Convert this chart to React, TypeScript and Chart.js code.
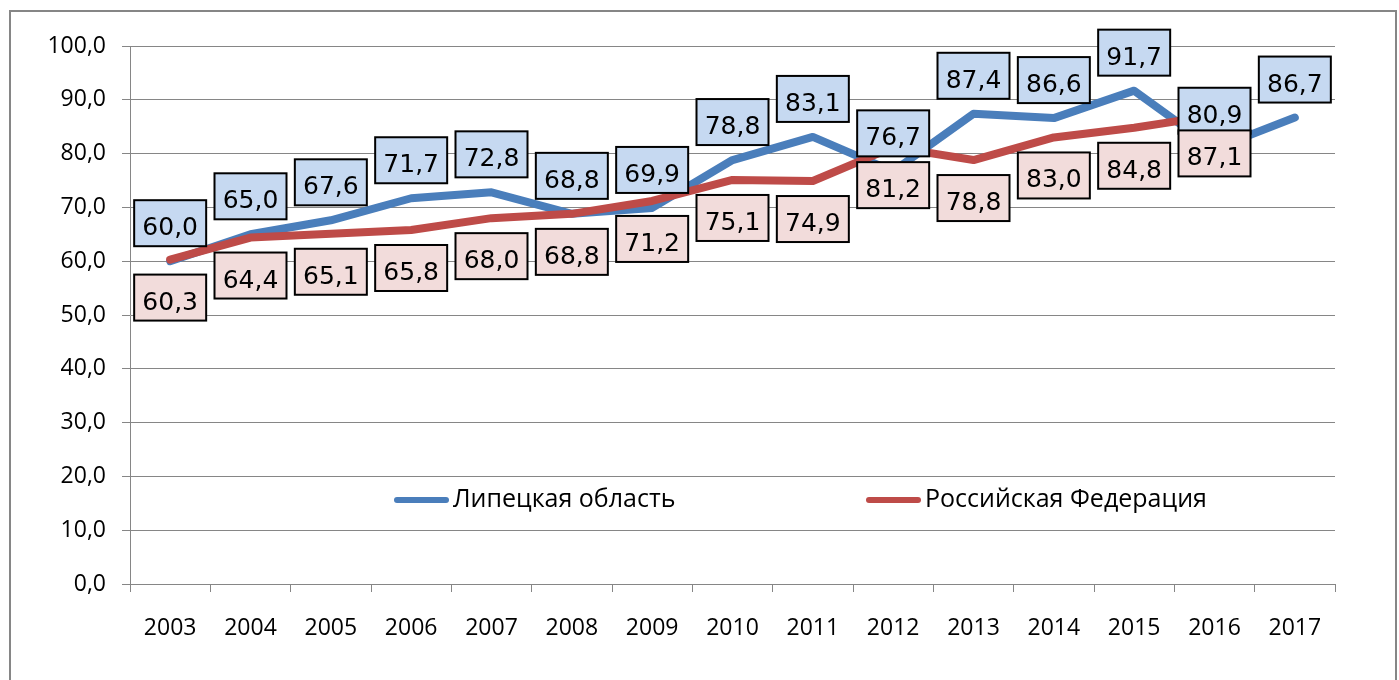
import React, { useEffect, useRef } from "react";
import { Chart, registerables } from "chart.js";

Chart.register(...registerables);

const years = ["2003", "2004", "2005", "2006", "2007", "2008", "2009", "2010", "2011", "2012", "2013", "2014", "2015", "2016", "2017"];
const lipetsk = [60.0, 65.0, 67.6, 71.7, 72.8, 68.8, 69.9, 78.8, 83.1, 76.7, 87.4, 86.6, 91.7, 80.9, 86.7];
const russia = [60.3, 64.4, 65.1, 65.8, 68.0, 68.8, 71.2, 75.1, 74.9, 81.2, 78.8, 83.0, 84.8, 87.1, null];
const seriesNames = ["Липецкая область", "Российская Федерация"];

const BLUE = "#4a7ebb";
const RED = "#be4b48";
const BLUE_FILL = "#c6d9f1";
const RED_FILL = "#f2dcdb";
const GRID = "#868686";
const TICK_FONT = "'Open Sans', sans-serif";
const LABEL_FONT = "'DejaVu Sans', sans-serif";

const fmt = (v: number) => v.toFixed(1).replace(".", ",");

const boxLabels = {
  id: "boxLabels",
  afterDatasetsDraw(chart: any) {
    const ctx = chart.ctx;
    const order = [0, 1]; // blue labels first, red labels on top
    ctx.save();
    for (const di of order) {
      const ds = chart.data.datasets[di];
      const meta = chart.getDatasetMeta(di);
      const above = ds.labelPos === "above";
      meta.data.forEach((pt: any, i: number) => {
        const v = ds.data[i];
        if (v === null || v === undefined) return;
        const cx = pt.x;
        const w = 72;
        const h = 46;
        const top = above ? pt.y - 15 - h : pt.y + 15;
        ctx.fillStyle = ds.boxFill;
        ctx.fillRect(cx - w / 2, top, w, h);
        ctx.lineWidth = 2;
        ctx.strokeStyle = "#000";
        ctx.strokeRect(cx - w / 2, top, w, h);
        ctx.fillStyle = "#000";
        ctx.font = `25px ${LABEL_FONT}`;
        ctx.textAlign = "center";
        ctx.textBaseline = "alphabetic";
        ctx.fillText(fmt(v), cx, top + h / 2 + 12);
      });
    }
    ctx.restore();
  },
};

const inlineLegend = {
  id: "inlineLegend",
  afterDraw(chart: any) {
    const ctx = chart.ctx;
    const items = [
      { x: 395, color: BLUE, text: seriesNames[0] },
      { x: 867, color: RED, text: seriesNames[1] },
    ];
    const y = 500;
    ctx.save();
    for (const it of items) {
      ctx.strokeStyle = it.color;
      ctx.lineWidth = 6;
      ctx.lineCap = "round";
      ctx.beginPath();
      ctx.moveTo(it.x + 2, y);
      ctx.lineTo(it.x + 51, y);
      ctx.stroke();
      ctx.fillStyle = "#000";
      ctx.font = `25px ${TICK_FONT}`;
      ctx.textAlign = "left";
      ctx.textBaseline = "middle";
      ctx.fillText(it.text, it.x + 58, y);
    }
    ctx.restore();
  },
};

export default function App() {
  const ref = useRef<HTMLCanvasElement>(null);
  useEffect(() => {
    if (!ref.current) return;
    const chart = new Chart(ref.current, {
      type: "line",
      data: {
        labels: years,
        datasets: [
          {
            label: seriesNames[0],
            data: lipetsk,
            borderColor: BLUE,
            backgroundColor: BLUE,
            borderWidth: 8,
            pointRadius: 0,
            pointHoverRadius: 0,
            borderCapStyle: "round",
            borderJoinStyle: "round",
            tension: 0,
            order: 1,
            labelPos: "above",
            boxFill: BLUE_FILL,
          } as any,
          {
            label: seriesNames[1],
            data: russia,
            borderColor: RED,
            backgroundColor: RED,
            borderWidth: 8,
            pointRadius: 0,
            pointHoverRadius: 0,
            borderCapStyle: "round",
            borderJoinStyle: "round",
            tension: 0,
            order: 0,
            labelPos: "below",
            boxFill: RED_FILL,
          } as any,
        ],
      },
      options: {
        responsive: false,
        animation: false,
        devicePixelRatio: 1,
        layout: { padding: { left: 0, right: 64, top: 46, bottom: 0 } },
        plugins: {
          legend: { display: false },
          tooltip: { enabled: false },
        },
        events: [],
        scales: {
          x: {
            type: "category",
            offset: true,
            grid: {
              display: true,
              offset: true,
              drawOnChartArea: false,
              drawTicks: true,
              tickLength: 8,
              color: GRID,
              lineWidth: 1,
            },
            border: { display: true, color: GRID, width: 1 },
            ticks: {
              color: "#000",
              font: { family: TICK_FONT, size: 23 },
              padding: 23,
              maxRotation: 0,
              autoSkip: false,
            },
            afterFit: (s: any) => {
              s.height = 96;
            },
          },
          y: {
            min: 0,
            max: 100,
            grid: {
              color: GRID,
              lineWidth: 1,
              drawTicks: true,
              tickLength: 8,
            },
            border: { display: true, color: GRID, width: 1 },
            ticks: {
              stepSize: 10,
              color: "#000",
              font: { family: TICK_FONT, size: 23 },
              padding: 16,
              callback: (v: any) => fmt(Number(v)),
            },
            afterFit: (s: any) => {
              s.width = 130;
            },
          },
        },
      },
      plugins: [boxLabels, inlineLegend],
    });
    return () => chart.destroy();
  }, []);

  return (
    <div
      style={{
        position: "fixed",
        left: 0,
        top: 0,
        width: 1399,
        height: 680,
        overflow: "hidden",
        background: "#fff",
      }}
    >
      <div
        style={{
          position: "absolute",
          left: 9,
          top: 10,
          width: 1384,
          height: 720,
          border: `2px solid ${GRID}`,
          boxSizing: "content-box",
        }}
      />
      <canvas
        ref={ref}
        width={1399}
        height={680}
        style={{ position: "absolute", left: 0, top: 0, width: 1399, height: 680 }}
      />
    </div>
  );
}
